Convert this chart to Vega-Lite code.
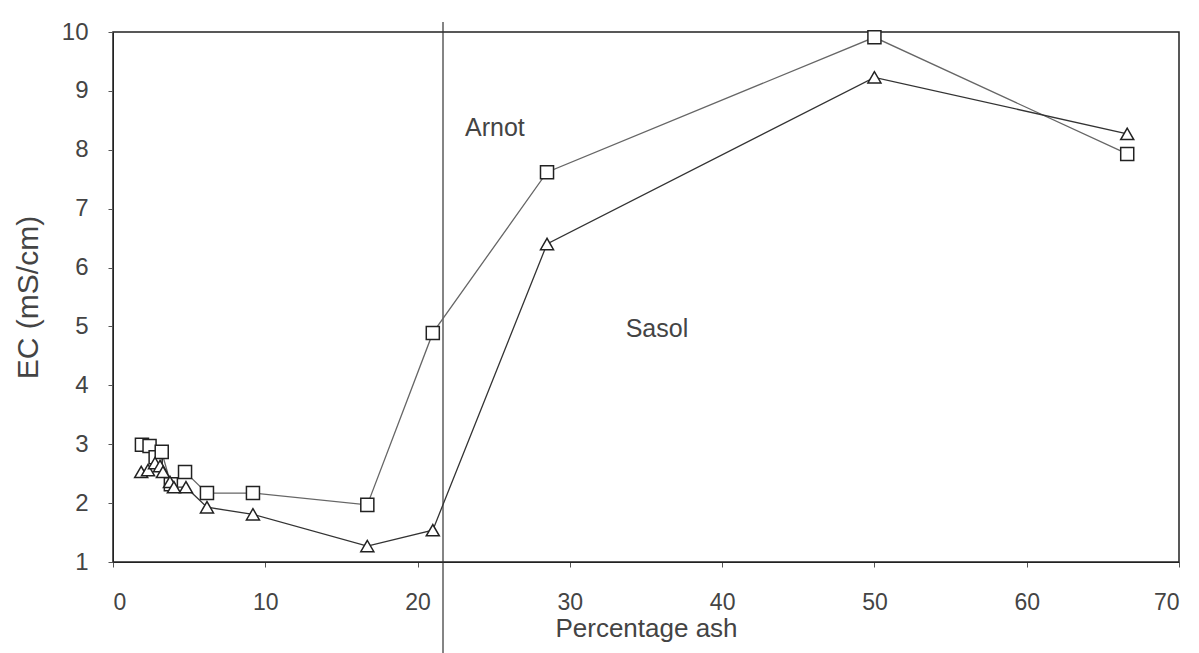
{
  "$schema": "https://vega.github.io/schema/vega-lite/v6.json",
  "width": 1066,
  "height": 530,
  "autosize": {"type": "none"},
  "padding": {"left": 113, "top": 32, "right": 20, "bottom": 91},
  "background": "white",
  "config": {
    "view": {"stroke": "#222", "strokeWidth": 1.5},
    "font": "Liberation Sans",
    "axis": {
      "grid": false,
      "domainColor": "#222",
      "tickColor": "#555",
      "labelColor": "#444",
      "titleColor": "#444",
      "labelFontSize": 23,
      "titleFontSize": 26,
      "labelFont": "Liberation Sans",
      "titleFont": "Liberation Sans",
      "titleFontWeight": "normal",
      "tickSize": 5
    }
  },
  "datasets": {
    "pts": [
      {"series": "Arnot", "ash": 1.9, "ec": 2.99},
      {"series": "Arnot", "ash": 2.4, "ec": 2.97},
      {"series": "Arnot", "ash": 2.8, "ec": 2.78},
      {"series": "Arnot", "ash": 3.2, "ec": 2.87},
      {"series": "Arnot", "ash": 3.8, "ec": 2.32},
      {"series": "Arnot", "ash": 4.73, "ec": 2.53},
      {"series": "Arnot", "ash": 6.17, "ec": 2.17},
      {"series": "Arnot", "ash": 9.19, "ec": 2.17},
      {"series": "Arnot", "ash": 16.7, "ec": 1.97},
      {"series": "Arnot", "ash": 21.0, "ec": 4.89},
      {"series": "Arnot", "ash": 28.5, "ec": 7.62},
      {"series": "Arnot", "ash": 50.0, "ec": 9.91},
      {"series": "Arnot", "ash": 66.6, "ec": 7.93},
      {"series": "Sasol", "ash": 1.85, "ec": 2.53},
      {"series": "Sasol", "ash": 2.3, "ec": 2.56},
      {"series": "Sasol", "ash": 2.76, "ec": 2.68},
      {"series": "Sasol", "ash": 3.09, "ec": 2.63},
      {"series": "Sasol", "ash": 3.28, "ec": 2.53},
      {"series": "Sasol", "ash": 3.74, "ec": 2.36},
      {"series": "Sasol", "ash": 4.0, "ec": 2.27},
      {"series": "Sasol", "ash": 4.79, "ec": 2.27},
      {"series": "Sasol", "ash": 6.17, "ec": 1.93},
      {"series": "Sasol", "ash": 9.19, "ec": 1.81},
      {"series": "Sasol", "ash": 16.7, "ec": 1.27},
      {"series": "Sasol", "ash": 21.0, "ec": 1.54},
      {"series": "Sasol", "ash": 28.5, "ec": 6.4},
      {"series": "Sasol", "ash": 50.0, "ec": 9.23},
      {"series": "Sasol", "ash": 66.6, "ec": 8.27}
    ],
    "labels": [
      {"ash": 25.08, "ec": 8.37, "text": "Arnot"},
      {"ash": 35.72, "ec": 4.96, "text": "Sasol"}
    ],
    "rule": [
      {"ash": 21.67, "top": 10.17, "bottom": -0.6}
    ]
  },
  "layer": [
    {
      "data": {"name": "rule"},
      "mark": {"type": "rule", "color": "#333", "strokeWidth": 1.2, "clip": false},
      "encoding": {
        "x": {"field": "ash", "type": "quantitative", "scale": {"domain": [0, 70]}},
        "y": {"field": "top", "type": "quantitative", "scale": {"domain": [1, 10]}},
        "y2": {"field": "bottom"}
      }
    },
    {
      "data": {"name": "pts"},
      "mark": {"type": "line", "strokeWidth": 1.3},
      "encoding": {
        "x": {"field": "ash", "type": "quantitative", "scale": {"domain": [0, 70]},
          "axis": {"title": "Percentage ash", "values": [0, 10, 20, 30, 40, 50, 60, 70], "format": "d", "labelPadding": 24, "titlePadding": 1}},
        "y": {"field": "ec", "type": "quantitative", "scale": {"domain": [1, 10]},
          "axis": {"title": "EC (mS/cm)", "values": [1, 2, 3, 4, 5, 6, 7, 8, 9, 10], "format": "d", "labelPadding": 20, "titlePadding": 18, "titleFontSize": 30, "labelFontSize": 24}},
        "detail": {"field": "series"},
        "color": {"field": "series", "type": "nominal", "scale": {"domain": ["Arnot", "Sasol"], "range": ["#666", "#333"]}, "legend": null}
      }
    },
    {
      "data": {"name": "pts"},
      "mark": {"type": "point", "filled": false, "fill": "white", "fillOpacity": 1, "stroke": "#222", "strokeWidth": 1.5, "opacity": 1, "size": 170},
      "encoding": {
        "x": {"field": "ash", "type": "quantitative"},
        "y": {"field": "ec", "type": "quantitative"},
        "shape": {"field": "series", "type": "nominal", "scale": {"domain": ["Arnot", "Sasol"], "range": ["square", "triangle-up"]}, "legend": null}
      }
    },
    {
      "data": {"name": "labels"},
      "mark": {"type": "text", "fontSize": 25, "color": "#444", "font": "Liberation Sans"},
      "encoding": {
        "x": {"field": "ash", "type": "quantitative"},
        "y": {"field": "ec", "type": "quantitative"},
        "text": {"field": "text"}
      }
    }
  ]
}
